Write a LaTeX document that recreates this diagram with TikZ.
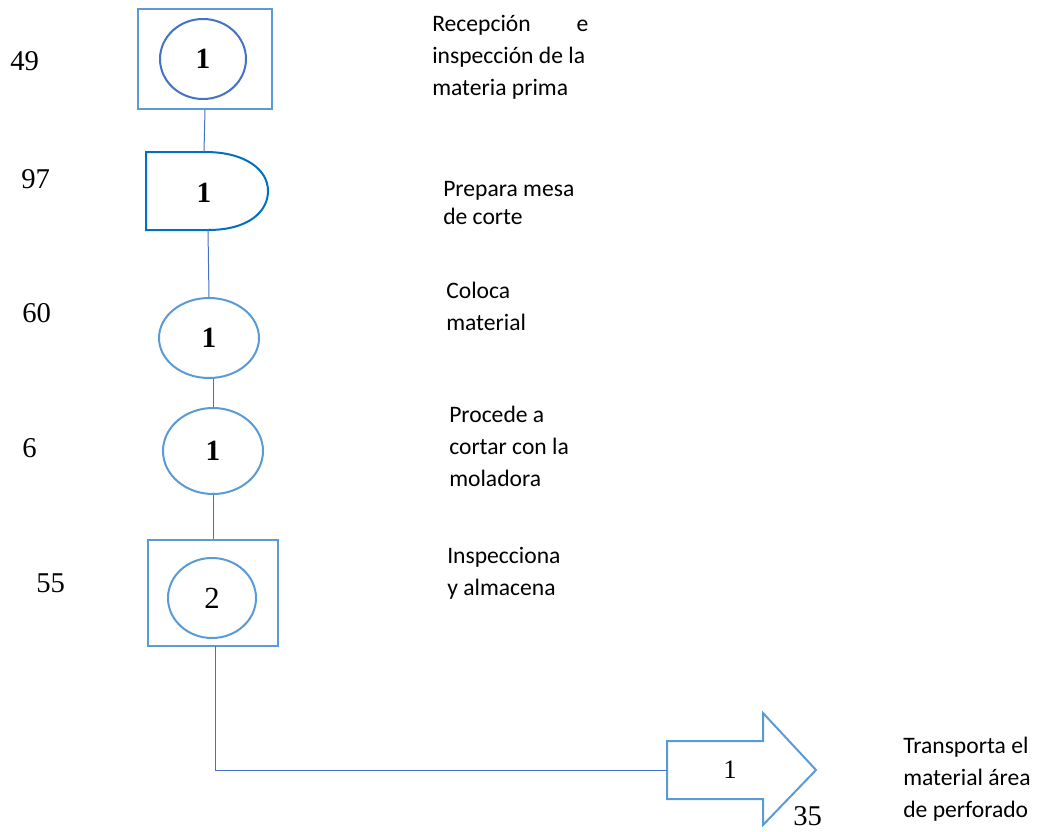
\documentclass[tikz,border=0pt]{standalone}
\usepackage{fontspec}
\setmainfont{Liberation Serif}
\newfontfamily\lblfont{Carlito}
\usetikzlibrary{shapes.geometric}
\definecolor{boxblue}{HTML}{5B9BD5}
\definecolor{deepblue}{HTML}{4472C4}
\definecolor{delayblue}{HTML}{0070C0}
\begin{document}
\begin{tikzpicture}[x=0.75pt,y=-0.75pt,
  opbox/.style={draw=boxblue,line width=1.5pt,rectangle,inner sep=0pt},
  opcirc/.style={draw=boxblue,line width=1.5pt,ellipse,inner sep=0pt,font=\fontsize{22pt}{24pt}\selectfont\bfseries},
  link/.style={draw=deepblue,line width=0.75pt},
  num/.style={anchor=base west,inner sep=0pt,font=\fontsize{21.5pt}{24pt}\selectfont},
  desc/.style={anchor=base west,inner sep=0pt,align=left,font=\lblfont\fontsize{17.7pt}{23.7pt}\selectfont}]
\useasboundingbox (0,0) rectangle (1040,832);

% inspection + operation 1
\node[opbox,minimum width=100.5pt,minimum height=75pt] (r1) at (205,59) {};
\node[opcirc,draw=deepblue,minimum width=64.5pt,minimum height=60pt] (c1) at (203,59) {1};

% delay 1
\draw[draw=delayblue,line width=1.5pt] (205,152) -- (146,152) -- (146,230) -- (208,230)
  .. controls (248,230) and (268,212) .. (268,191)
  .. controls (268,170) and (246,152) .. (205,152) -- cycle;
\node[inner sep=0pt,font=\fontsize{22pt}{24pt}\selectfont\bfseries] (d1) at (204,193) {1};
\coordinate (dtop) at (204,152);
\coordinate (dbot) at (208,230);

% operations
\node[opcirc,minimum width=75pt,minimum height=60pt] (c2) at (209,338) {1};
\node[opcirc,minimum width=75pt,minimum height=64.5pt] (c3) at (213,451) {1};

% inspection + operation 2
\node[opbox,minimum width=97.5pt,minimum height=79.5pt] (r2) at (213,593) {};
\node[opcirc,minimum width=66pt,minimum height=60pt,font=\fontsize{23pt}{24pt}\selectfont] (c4) at (212,598) {2};
\coordinate (r2out) at (215,646);

% transport arrow
\draw[draw=boxblue,line width=1.5pt] (667,741) -- (763,741) -- (763,713) -- (816,770)
  -- (763,825) -- (763,799) -- (667,799) -- cycle;
\node[inner sep=0pt,font=\fontsize{20pt}{24pt}\selectfont] (t1) at (730,770) {1};
\coordinate (tin) at (667,770);

% connectors
\draw[link] (r1.south) -- (dtop);
\draw[link] (dbot) -- (c2.north);
\draw[link] (c3.north |- c2.south) -- (c3.north);
\draw[link] (c3.south) -- (r2.north);
\draw[link] (r2out) |- (tin);

% times
\node[num] (n49) at (10,70) {49};
\node[num] (n97) at (21,188) {97};
\node[num] (n60) at (22,322) {60};
\node[num] (n6) at (22,457) {6};
\node[num] (n55) at (36,592) {55};
\node[num] (n35) at (793,825) {35};

% descriptions (anchored at the baseline of the last line)
\node[desc] (l1) at (432,95) {\hbox to 117pt{Recepción\hfill e}\\inspección de la\\materia prima};
\node[desc,font=\lblfont\fontsize{17.7pt}{21pt}\selectfont] (l2) at (443,224) {Prepara mesa\\de corte};
\node[desc] (l3) at (446,330) {Coloca\\material};
\node[desc] (l4) at (449,486) {Procede a\\cortar con la\\moladora};
\node[desc] (l5) at (447,595) {Inspecciona\\y almacena};
\node[desc] (l6) at (903,817) {Transporta el\\material área\\de perforado};
\end{tikzpicture}
\end{document}
